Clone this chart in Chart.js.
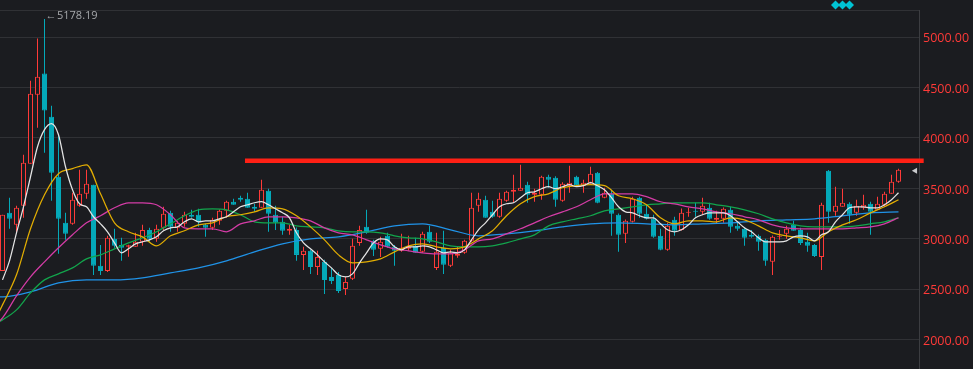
<!DOCTYPE html>
<html>
<head>
<meta charset="utf-8">
<style>
    html, body { margin: 0; padding: 0; background: #1b1c20; overflow: hidden; }
    canvas { display: block; }
</style>
<script src="https://cdn.jsdelivr.net/npm/chart.js@4"></script>
</head>
<body>
<canvas id="chart" width="973" height="369"></canvas>
<script>
const opens = [
    2680,3256,3137,3326,3743,4428,4637,4210,3614,3157,
    3147,3326,3445,3534,2730,2680,2998,2938,2919,2919,
    2968,3087,2998,3107,3256,3107,3147,3236,3236,3137,
    3107,3177,3276,3365,3405,3395,3316,3306,3475,3236,
    3167,3078,3087,2839,2879,2720,2770,2620,2640,2501,
    2601,2958,3117,2978,2899,3028,2919,2879,2899,2929,
    2869,3068,2710,2909,2730,2830,2859,2978,3326,3385,
    3266,3216,3375,3465,3475,3534,3435,3435,3614,3604,
    3375,3524,3614,3524,3554,3654,3405,3445,3236,3048,
    3167,3405,3246,3197,3028,2889,3187,3087,3256,3276,
    3266,3306,3187,3197,3286,3127,3097,3038,3028,2988,
    2770,3018,3048,3137,3087,2968,2938,2819,3673,3266,
    3316,3346,3256,3306,3346,3286,3336,3445,3564
];
const closes = [
    3237,3197,3306,3753,4438,4607,4270,3654,3197,3048,
    3385,3445,3544,2730,2680,3008,2929,2909,2935,2968,
    3087,2998,3097,3246,3117,3157,3236,3216,3167,3107,
    3187,3276,3365,3335,3385,3306,3296,3485,3246,3157,
    3078,3097,2839,2879,2720,2819,2590,2580,2481,2571,
    2929,3087,3058,2889,2968,2919,2879,2909,2919,2859,
    3048,2968,2869,2740,2859,2849,2978,3306,3395,3207,
    3216,3395,3465,3485,3505,3435,3455,3614,3584,3385,
    3544,3554,3524,3554,3644,3355,3455,3246,3038,3177,
    3395,3246,3197,3018,2889,3127,3078,3256,3266,3266,
    3326,3197,3207,3296,3117,3097,3008,3018,2968,2780,
    3018,3028,3097,3078,2958,2929,2829,3336,3266,3326,
    3355,3236,3326,3336,3266,3346,3445,3564,3683
];
const highs = [
    3237,3405,3326,3832,4567,4985,5178.19,4319,4041,3256,
    3455,3683,3683,3534,2938,3028,3097,3008,2940,3058,
    3137,3107,3137,3316,3276,3177,3266,3286,3296,3150,
    3207,3290,3375,3395,3425,3455,3346,3584,3495,3326,
    3216,3137,3110,2919,2890,2880,2790,2710,2670,2620,
    2998,3127,3286,2988,3018,3058,2938,3048,3028,3008,
    3068,3127,3058,3078,2889,2919,2990,3455,3455,3425,
    3375,3455,3475,3634,3733,3564,3495,3624,3634,3620,
    3560,3723,3624,3584,3713,3660,3504,3485,3250,3190,
    3415,3415,3335,3236,3097,3157,3216,3300,3306,3355,
    3405,3355,3276,3310,3316,3157,3110,3087,3040,3000,
    3030,3087,3127,3177,3107,3058,2948,3355,3680,3514,
    3495,3360,3385,3435,3365,3415,3465,3634,3693
];
const lows = [
    2680,3097,3058,3207,3743,4101,3852,3375,2849,2988,
    3137,3316,3395,2640,2640,2670,2909,2780,2820,2919,
    2929,2968,2968,3087,3068,3068,3117,3207,3117,3018,
    3087,3137,3207,3335,3365,3306,3266,3306,3068,3087,
    3038,3038,2780,2690,2650,2640,2452,2550,2462,2442,
    2590,2929,3048,2829,2819,2909,2730,2869,2879,2859,
    2859,2958,2690,2650,2720,2810,2850,2968,3266,3207,
    3207,3207,3365,3355,3475,3355,3365,3385,3504,3316,
    3365,3455,3514,3455,3545,3350,3400,3028,2869,2958,
    3160,3207,3190,3010,2885,2880,3028,3080,3216,3216,
    3236,3187,3147,3157,3058,3078,2929,3008,2879,2730,
    2640,2988,2998,3078,2938,2869,2819,2690,3157,3226,
    3316,3147,3226,3286,3038,3286,3316,3445,3554
];

// the white line follows every candle
const maWhite = [
    2591,2780,3058,3316,3614,3912,4081,4141,4031,3713,
    3485,3346,3316,3217,3147,3068,2958,2859,2899,2948,
    2968,2988,3018,3078,3107,3117,3167,3197,3167,3177,
    3177,3197,3217,3266,3316,3336,3356,3366,3336,3296,
    3256,3207,3058,2958,2899,2839,2770,2710,2641,2621,
    2651,2760,2859,2958,2998,2988,2919,2889,2919,2919,
    2929,2919,2889,2859,2869,2859,2889,2988,3088,3157,
    3237,3316,3346,3356,3406,3455,3465,3495,3515,3495,
    3515,3535,3515,3525,3555,3525,3485,3406,3316,3266,
    3256,3227,3207,3207,3147,3088,3068,3088,3137,3207,
    3237,3256,3256,3256,3227,3167,3107,3068,3008,2968,
    2968,2968,2978,3018,3028,3018,2978,3038,3068,3167,
    3237,3306,3316,3316,3306,3306,3336,3386,3455
];

// the others were read every second candle, from index -2
const maYellow = [
    2065,2343,2641,3098,3435,3644,3694,3733,3445,3157,
    3068,3018,2929,3028,3078,3137,3157,3217,3237,3266,
    3306,3296,3227,3117,2988,2839,2760,2770,2800,2869,
    2929,2949,2919,2899,2919,2998,3078,3227,3346,3416,
    3445,3505,3525,3535,3525,3425,3396,3336,3207,3147,
    3177,3177,3167,3207,3187,3127,3058,3028,3008,2978,
    3068,3137,3187,3256,3316,3386
];
const maMagenta = [
    2094,2214,2432,2621,2770,2909,3038,3157,3227,3306,
    3356,3356,3336,3237,3107,3098,3098,3068,3147,3177,
    3217,3217,3207,3177,3107,3058,3038,2988,2939,2899,
    2879,2859,2849,2849,2889,2978,2998,3048,3098,3157,
    3217,3266,3316,3386,3445,3445,3445,3416,3366,3346,
    3316,3296,3266,3247,3217,3187,3137,3107,3098,3098,
    3098,3098,3107,3117,3147,3207
];
const maGreen = [
    2124,2194,2293,2462,2591,2651,2710,2800,2839,2899,
    2958,3008,3068,3147,3227,3286,3296,3286,3237,3167,
    3157,3157,3127,3117,3107,3078,3068,3068,3058,3028,
    3008,2998,2968,2929,2919,2919,2929,2958,2998,3038,
    3127,3167,3197,3227,3276,3296,3316,3336,3346,3356,
    3356,3356,3336,3316,3286,3247,3197,3157,3127,3117,
    3117,3117,3127,3147,3167,3207
];

// slow line, every fourth candle from index -4
const maBlue = [
    2420,2422,2472,2561,2591,2591,2611,2660,2710,2780,
    2869,2949,2998,3018,3068,3127,3147,3088,3028,3048,
    3078,3117,3147,3157,3147,3137,3147,3157,3177,3187,
    3197,3227,3256,3266
];

const priceTicks = [2000, 2500, 3000, 3500, 4000, 4500, 5000];
const yMin = 1707;
const yMax = 5268;
const xMin = -2.5 / 7;
const xMax = 916.5 / 7;

const peakIndex = 6;
const peakValue = 5178.19;

const levelX = [34.64, 131.6];
const levelY = 3773;

const diamondX = [119, 120, 121];
const diamondY = 5318;

const markerX = 130.4;
const markerY = 3674;

const UP = '#ff3a38';
const DOWN = '#04a9b9';
const BG = '#1b1c20';

const candleIdx = opens.map((_, i) => i);
const upColor = candleIdx.map(i => closes[i] >= opens[i] ? UP : DOWN);

const evenIdx = maYellow.map((_, i) => i * 2 - 2);
const quadIdx = maBlue.map((_, i) => i * 4 - 4);
const toXY = (xs, ys) => xs.map((x, i) => ({x, y: ys[i]}));

const lineSet = (data, color, order) => ({
    type: 'line',
    data,
    borderColor: color,
    borderWidth: 1.25,
    pointRadius: 0,
    cubicInterpolationMode: 'monotone',
    order
});

const peakLabel = {
    id: 'peakLabel',
    afterDatasetsDraw(chart) {
        const {ctx, scales} = chart;
        const x = scales.x.getPixelForValue(peakIndex);
        const y = scales.y.getPixelForValue(peakValue);
        ctx.save();
        ctx.fillStyle = '#a6a8ab';
        ctx.textBaseline = 'middle';
        ctx.font = '11px "Open Sans"';
        ctx.fillText('←', x + 1, y - 3);
        ctx.fillText(peakValue.toFixed(2), x + 12.5, y - 3);
        ctx.restore();
    }
};

new Chart(document.getElementById('chart'), {
    data: {
        datasets: [
            {
                type: 'bar',
                data: candleIdx.map(i => ({x: i, y: [lows[i], highs[i]]})),
                backgroundColor: upColor,
                borderWidth: 0,
                maxBarThickness: 1,
                grouped: false,
                inflateAmount: 0,
                order: 10
            },
            {
                type: 'bar',
                data: candleIdx.map(i => ({x: i, y: [opens[i], closes[i]]})),
                backgroundColor: candleIdx.map(i => closes[i] >= opens[i] ? BG : DOWN),
                borderColor: upColor,
                borderWidth: 1,
                borderSkipped: false,
                maxBarThickness: 5,
                grouped: false,
                inflateAmount: 0,
                order: 9
            },
            lineSet(toXY(quadIdx, maBlue), '#2093e8', 8),
            lineSet(toXY(evenIdx, maGreen), '#12a54c', 7),
            lineSet(toXY(evenIdx, maMagenta), '#d43ca6', 6),
            lineSet(toXY(evenIdx, maYellow), '#e2ad02', 5),
            lineSet(toXY(candleIdx, maWhite), '#e4e4e4', 4),
            {
                type: 'line',
                data: toXY(levelX, [levelY, levelY]),
                borderColor: '#ff2015',
                borderWidth: 4.5,
                pointRadius: 0,
                clip: false,
                order: 3
            },
            {
                type: 'scatter',
                data: diamondX.map(x => ({x, y: diamondY})),
                pointStyle: 'rectRot',
                pointRadius: 4.5,
                pointHoverRadius: 12, // points are skipped outside the area by this margin
                backgroundColor: '#00c3d4',
                borderWidth: 0,
                clip: false,
                order: 2
            },
            {
                type: 'scatter',
                data: [{x: markerX, y: markerY}],
                pointStyle: 'triangle',
                rotation: -90,
                pointRadius: 3.5,
                backgroundColor: '#c9cacc',
                borderWidth: 0,
                clip: false,
                order: 1
            }
        ]
    },
    options: {
        responsive: false,
        animation: false,
        layout: {autoPadding: false, padding: {top: 10, left: 0, right: 0, bottom: 0}},
        plugins: {legend: {display: false}, tooltip: {enabled: false}},
        scales: {
            x: {type: 'linear', min: xMin, max: xMax, offset: false, display: false},
            y: {
                position: 'right',
                min: yMin,
                max: yMax,
                afterBuildTicks: scale => {
                    scale.ticks = priceTicks.concat(yMax).map(value => ({value}));
                },
                afterFit: scale => {
                    scale.width = 54;
                    // the first tick is not at the bottom edge, so no room is needed for its label
                    scale.paddingTop = 0;
                    scale.paddingBottom = 0;
                },
                grid: {color: '#303135', lineWidth: 1, drawTicks: false},
                border: {color: '#3c3d41', width: 1},
                ticks: {
                    color: '#ff3a38',
                    // short line height plus an empty first line nudges the label down a little
                    font: {family: '"Open Sans"', size: 12.5, lineHeight: 0.3},
                    padding: 4,
                    autoSkip: false,
                    maxRotation: 0,
                    callback: v => v === yMax ? '' : ['', v.toFixed(2)]
                }
            }
        }
    },
    plugins: [peakLabel]
});
</script>
</body>
</html>
